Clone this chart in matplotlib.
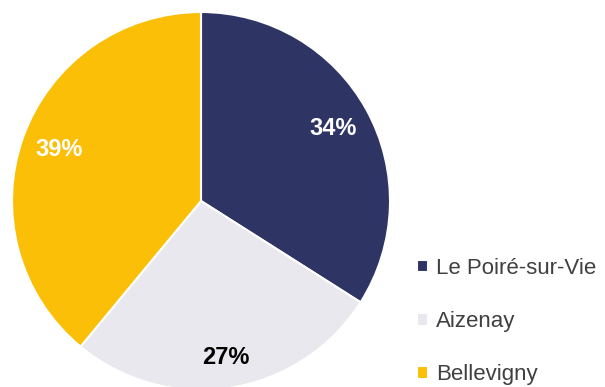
import matplotlib.pyplot as plt

# Share by commune
communes = ['Le Poiré-sur-Vie', 'Aizenay', 'Bellevigny']
shares = [34, 27, 39]
colors = ['#2E3464', '#E8E8EE', '#FBBF07']
label_colors = ['white', 'black', 'white']
label_radius = [0.8, 0.84, 0.8]

plt.rcParams['font.family'] = ['Liberation Sans', 'DejaVu Sans']

fig = plt.figure(figsize=(6.05, 3.87), dpi=100)
ax = fig.add_axes([12 / 605, -3 / 387, 378 / 605, 378 / 387])

wedges, texts = ax.pie(shares, colors=colors, startangle=90, counterclock=False,
                       labels=[f'{s}%' for s in shares], labeldistance=0.8,
                       wedgeprops=dict(edgecolor='white', linewidth=1.5))
for t, c, r in zip(texts, label_colors, label_radius):
    x, y = t.get_position()
    t.set_position((x * r / 0.8, y * r / 0.8))
    t.set_color(c)
    t.set_fontsize(17)
    t.set_fontweight('bold')
    t.set_ha('center')
    t.set_va('center')
ax.set_xlim(-1, 1)
ax.set_ylim(-1, 1)
ax.set_aspect('equal')

fig.legend(wedges, communes, loc='upper left', bbox_to_anchor=(417 / 605, 1 - 258 / 387),
           frameon=False, fontsize=16, labelcolor='#404040',
           handlelength=0.5, handleheight=0.5, handletextpad=0.35,
           labelspacing=1.45, borderpad=0, borderaxespad=0)

fig.savefig('out.png', dpi=100)
